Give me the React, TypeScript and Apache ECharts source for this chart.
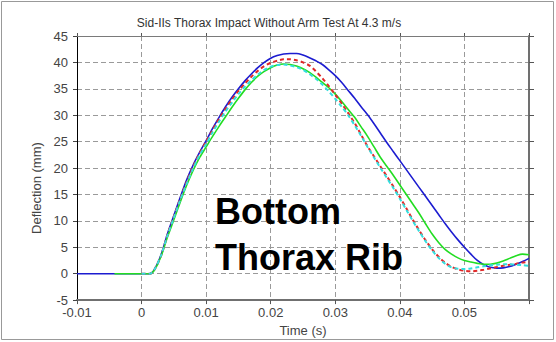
import React, { useEffect, useRef } from "react";
import * as echarts from "echarts";

// shared time grid (s) for the rising/falling part
const timeGrid = [
  0.002, 0.003, 0.004, 0.005, 0.006, 0.007, 0.008, 0.009, 0.010, 0.011,
  0.012, 0.013, 0.014, 0.015, 0.016, 0.017, 0.018, 0.019, 0.020, 0.021,
  0.022, 0.023, 0.024, 0.025, 0.026, 0.027, 0.028, 0.029, 0.030, 0.031,
  0.032, 0.033, 0.034, 0.035, 0.036, 0.037, 0.038, 0.039, 0.040, 0.041,
  0.042, 0.043, 0.044, 0.045, 0.046, 0.047, 0.048, 0.049, 0.050, 0.051,
  0.052, 0.053, 0.054, 0.055, 0.056, 0.057, 0.058, 0.059, 0.060,
];

// leading flat segments [time, deflection]
const blueStart = [[-0.01, 0], [0.0013, 0]];
const greenStart = [[-0.0042, 0], [0.0013, 0]];
const redStart = [[0.0, 0], [0.0013, 0]];
const cyanStart = [[0.0, 0], [0.0013, 0]];

const blueValues = [
  0.8, 3.5, 7.5, 11.0, 14.5, 17.8, 20.6, 23.0, 25.2, 27.5,
  29.6, 31.6, 33.4, 35.0, 36.5, 37.8, 39.0, 40.0, 40.8, 41.3,
  41.6, 41.7, 41.7, 41.4, 40.9, 40.3, 39.6, 38.6, 37.5, 36.2,
  34.7, 33.2, 31.6, 30.1, 28.4, 26.6, 24.8, 23.1, 21.4, 19.7,
  18.0, 16.3, 14.6, 12.9, 11.2, 9.5, 7.9, 6.4, 5.0, 3.7,
  2.5, 1.7, 1.2, 1.05, 1.1, 1.35, 1.8, 2.3, 2.9,
];
const greenValues = [
  0.7, 3.2, 6.9, 10.2, 13.6, 16.8, 19.6, 22.0, 24.0, 26.0,
  27.9, 29.7, 31.5, 33.2, 34.8, 36.2, 37.4, 38.3, 39.0, 39.5,
  39.7, 39.6, 39.3, 38.8, 38.1, 37.2, 36.2, 35.2, 34.0, 32.6,
  31.1, 29.6, 27.8, 26.0, 24.0, 22.0, 20.3, 18.6, 16.8, 15.0,
  13.2, 11.4, 9.4, 7.5, 5.9, 4.6, 3.7, 3.0, 2.5, 2.2,
  1.95, 1.8, 1.8, 2.0, 2.4, 2.9, 3.4, 3.7, 3.6,
];
const redValues = [
  0.8, 3.4, 7.3, 10.8, 14.2, 17.4, 20.3, 22.8, 25.0, 27.2,
  29.3, 31.2, 33.0, 34.6, 36.0, 37.3, 38.4, 39.3, 39.9, 40.3,
  40.6, 40.6, 40.4, 40.0, 39.4, 38.3, 37.0, 35.5, 33.9, 32.2,
  30.4, 28.5, 26.3, 24.1, 22.2, 20.3, 18.4, 16.5, 14.5, 12.4,
  10.2, 8.2, 6.3, 4.6, 3.2, 2.1, 1.3, 0.8, 0.55, 0.45,
  0.55, 0.75, 1.0, 1.25, 1.5, 1.7, 1.9, 2.1, 2.2,
];
const cyanValues = [
  0.8, 3.4, 7.2, 10.6, 14.0, 17.1, 20.0, 22.5, 24.6, 26.8,
  28.8, 30.7, 32.4, 34.0, 35.4, 36.6, 37.7, 38.6, 39.2, 39.5,
  39.6, 39.4, 39.1, 38.6, 37.8, 36.9, 35.8, 34.5, 33.1, 31.6,
  30.0, 28.1, 26.1, 24.0, 22.0, 20.0, 18.1, 16.2, 14.2, 12.1,
  10.0, 8.0, 6.1, 4.4, 3.0, 1.9, 1.2, 0.95, 0.9, 1.0,
  1.2, 1.4, 1.6, 1.7, 1.8, 1.8, 1.7, 1.6, 1.5,
];

const titleText = "Sid-IIs Thorax Impact Without Arm Test At 4.3 m/s";
const xName = "Time (s)";
const yName = "Deflection (mm)";
const noteLines = ["Bottom", "Thorax Rib"];

const FONT = "'Liberation Sans', Arial, sans-serif";

function build(start: number[][], values: number[]) {
  return start.concat(values.map((v, i) => [timeGrid[i], v]));
}

export default function App() {
  const ref = useRef<HTMLDivElement>(null);
  useEffect(() => {
    if (!ref.current) return;
    const chart = echarts.init(ref.current, undefined, { renderer: "svg" });
    const fmtX = (v: number) => {
      if (Math.abs(v - 0.06) < 1e-9) return "";
      return String(+v.toFixed(2));
    };
    chart.setOption({
      animation: false,
      backgroundColor: "#ffffff",
      title: {
        text: titleText,
        left: 264,
        top: 12,
        textAlign: "center",
        textStyle: { fontSize: 12, fontWeight: "normal", color: "#333", fontFamily: FONT },
      },
      grid: { left: 77, top: 36, right: 27, bottom: 38 },
      xAxis: [
        {
          type: "value",
          min: -0.01,
          max: 0.06,
          interval: 0.01,
          position: "bottom",
          axisLine: { onZero: false, lineStyle: { color: "#707070", width: 2 } },
          axisTick: { show: true, inside: false, length: 4, lineStyle: { color: "#555", width: 1 } },
          axisLabel: { formatter: fmtX, color: "#444", fontSize: 13, fontFamily: FONT, margin: 6, showMaxLabel: true },
          splitLine: { show: true, lineStyle: { type: [5, 3], color: "#9a9a9a", width: 1 } },
          name: xName,
          nameLocation: "middle",
          nameGap: 22,
          nameTextStyle: { color: "#444", fontSize: 13, fontFamily: FONT, verticalAlign: "top" },
        },
        {
          type: "value",
          min: -0.01,
          max: 0.06,
          interval: 0.01,
          position: "top",
          axisLine: { onZero: false, lineStyle: { color: "#7a7a7a", width: 1 } },
          axisTick: { show: true, inside: false, length: 3, lineStyle: { color: "#555", width: 1 } },
          axisLabel: { show: false },
          splitLine: { show: false },
        },
      ],
      yAxis: [
        {
          type: "value",
          min: -5,
          max: 45,
          interval: 5,
          position: "left",
          axisLine: { onZero: false, lineStyle: { color: "#000", width: 1 } },
          axisTick: { show: true, inside: false, length: 4, lineStyle: { color: "#444", width: 1 } },
          axisLabel: { color: "#444", fontSize: 13, fontFamily: FONT, margin: 9 },
          splitLine: { show: true, lineStyle: { type: [5, 3], color: "#9a9a9a", width: 1 } },
        },
        {
          type: "value",
          min: -5,
          max: 45,
          interval: 5,
          position: "right",
          axisLine: { onZero: false, lineStyle: { color: "#707070", width: 2 } },
          axisTick: { show: true, inside: false, length: 5, lineStyle: { color: "#555", width: 1 } },
          axisLabel: { show: false },
          splitLine: { show: false },
        },
      ],
      graphic: [
        {
          type: "rect",
          shape: { x: 1.5, y: 1.5, width: 552, height: 338 },
          style: { fill: "none", stroke: "#999", lineWidth: 1 },
          silent: true,
        },
        {
          type: "text",
          x: 36,
          y: 188,
          rotation: Math.PI / 2,
          style: { text: yName, fill: "#444", fontSize: 13, fontFamily: FONT, align: "center", verticalAlign: "middle" },
        },
        {
          type: "text",
          x: 215,
          y: 211,
          style: { text: noteLines[0], fill: "#000", fontSize: 36, fontWeight: "bold", fontFamily: FONT, align: "left", verticalAlign: "middle" },
          z: 100,
        },
        {
          type: "text",
          x: 215,
          y: 257,
          style: { text: noteLines[1], fill: "#000", fontSize: 36, fontWeight: "bold", fontFamily: FONT, align: "left", verticalAlign: "middle" },
          z: 100,
        },
      ],
      series: [
        {
          type: "line",
          data: build(blueStart, blueValues),
          showSymbol: false,
          smooth: 0.3,
          lineStyle: { color: "#1c1cd0", width: 1.6 },
        },
        {
          type: "line",
          data: build(greenStart, greenValues),
          showSymbol: false,
          smooth: 0.3,
          lineStyle: { color: "#22dd22", width: 1.6 },
        },
        {
          type: "line",
          data: build(redStart, redValues),
          showSymbol: false,
          smooth: 0.3,
          lineStyle: { color: "#e02828", width: 2, type: [4, 3] },
        },
        {
          type: "line",
          data: build(cyanStart, cyanValues),
          showSymbol: false,
          smooth: 0.3,
          lineStyle: { color: "#33dede", width: 2, type: [4, 3] },
        },
      ],
    });
    return () => chart.dispose();
  }, []);
  return (
    <div
      ref={ref}
      style={{ position: "fixed", left: 0, top: 0, width: 556, height: 342, background: "#fff" }}
    />
  );
}
